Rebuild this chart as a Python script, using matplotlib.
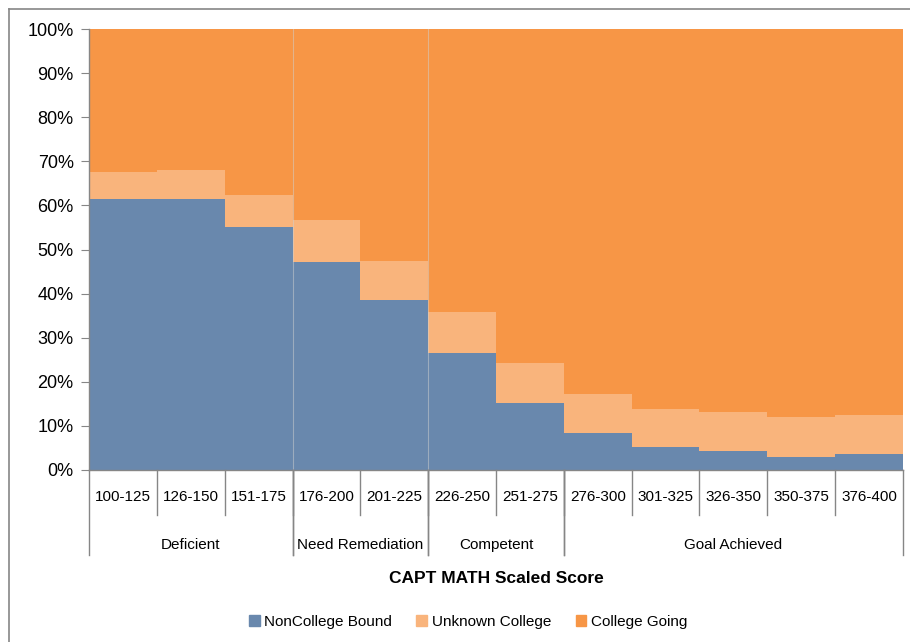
import matplotlib.pyplot as plt
from matplotlib.lines import Line2D
from matplotlib.patches import Patch

plt.rcParams['font.family'] = ['Liberation Sans', 'DejaVu Sans']

# score bands and performance groups
categories = ["100-125", "126-150", "151-175", "176-200", "201-225", "226-250",
              "251-275", "276-300", "301-325", "326-350", "350-375", "376-400"]
groups = [("Deficient", 0, 3), ("Need Remediation", 3, 5),
          ("Competent", 5, 7), ("Goal Achieved", 7, 12)]

# percent of students in each band
noncollege = [61.5, 61.5, 55.1, 47.2, 38.5, 26.6, 15.3, 8.5, 5.2, 4.3, 3.0, 3.6]
unknown = [6.1, 6.5, 7.3, 9.4, 9.0, 9.2, 9.0, 8.7, 8.6, 8.9, 9.0, 8.9]
college = [100 - a - b for a, b in zip(noncollege, unknown)]

c_blue = "#6988AD"
c_light = "#F9B47C"
c_orange = "#F79646"

fig = plt.figure(figsize=(9.1, 6.42), dpi=100)
ax = fig.add_axes([89 / 910, 172 / 642, 814 / 910, 441 / 642])

x = list(range(len(categories)))
bottom2 = [a + b for a, b in zip(noncollege, unknown)]
ax.bar(x, noncollege, width=1.0, color=c_blue, linewidth=0)
ax.bar(x, unknown, width=1.0, bottom=noncollege, color=c_light, linewidth=0)
ax.bar(x, college, width=1.0, bottom=bottom2, color=c_orange, linewidth=0)

ax.set_xlim(-0.5, len(categories) - 0.5)
ax.set_ylim(0, 100)
ax.set_yticks(range(0, 101, 10))
ax.set_yticklabels([f"{v}%" for v in range(0, 101, 10)], fontsize=13)
ax.tick_params(axis='y', length=6, color="#868686", pad=5)
ax.set_xticks([])

for s in ["top", "right"]:
    ax.spines[s].set_visible(False)
for s in ["left", "bottom"]:
    ax.spines[s].set_color("#868686")
    ax.spines[s].set_linewidth(1)

# faint group separators inside the plot
for _, start, end in groups[1:3]:
    ax.axvline(start - 0.5, color="#d0d0d0", lw=0.8, alpha=0.5)

trans = ax.get_xaxis_transform()
# category separators and labels
for i, lab in enumerate(categories):
    ax.text(i, -0.061, lab, transform=trans, ha='center', va='center', fontsize=11)
    if i > 0:
        ax.add_line(Line2D([i - 0.5, i - 0.5], [0, -0.102], transform=trans,
                           color="#868686", lw=1, clip_on=False))
# group separators and labels
for name, start, end in groups:
    ax.text((start + end - 1) / 2, -0.170, name, transform=trans,
            ha='center', va='center', fontsize=11)
    for xb in (start - 0.5, end - 0.5):
        ax.add_line(Line2D([xb, xb], [0, -0.193], transform=trans,
                           color="#868686", lw=1, clip_on=False))

ax.text(0.5, -0.245, "CAPT MATH Scaled Score", transform=ax.transAxes,
        ha='center', va='center', fontsize=12.5, fontweight='bold')

handles = [Patch(color=c_blue, label="NonCollege Bound"),
           Patch(color=c_light, label="Unknown College"),
           Patch(color=c_orange, label="College Going")]
fig.legend(handles=handles, loc='center', bbox_to_anchor=(468 / 910, 1 - 622 / 642),
           ncol=3, frameon=False, fontsize=11, handlelength=0.7, handleheight=0.7,
           handletextpad=0.3, columnspacing=1.6)

# outer chart frame
fig.add_artist(Line2D([9 / 910, 9 / 910], [0, 1 - 9 / 642], color="#868686", lw=1.2))
fig.add_artist(Line2D([9 / 910, 1], [1 - 9 / 642, 1 - 9 / 642], color="#868686", lw=1.2))

fig.savefig("out.png", dpi=100)
